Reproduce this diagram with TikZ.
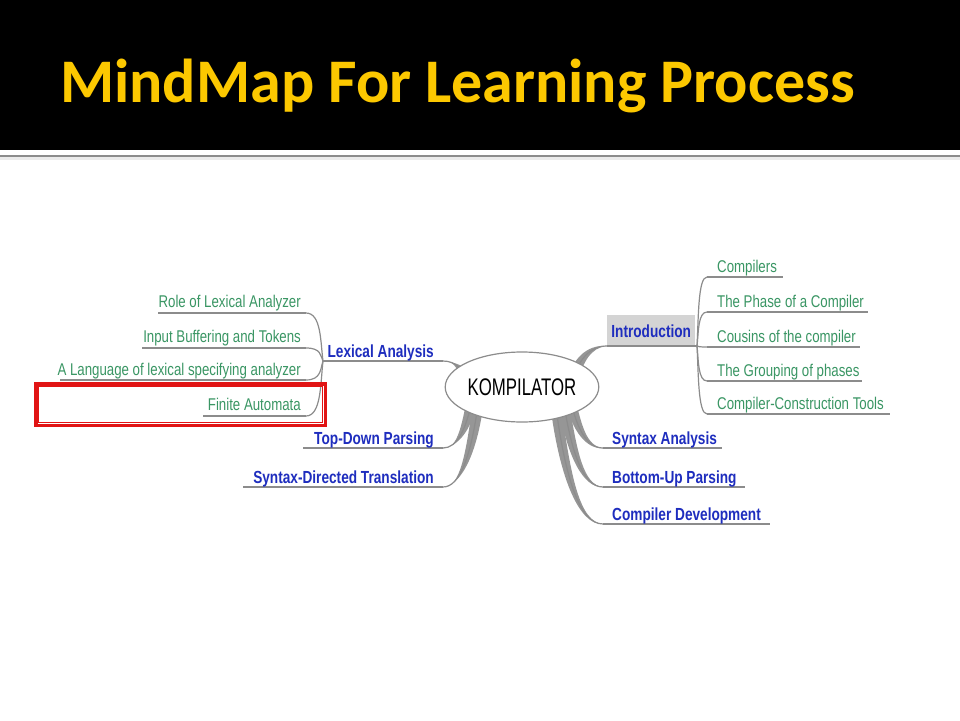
\documentclass[tikz,border=0pt]{standalone}
\usepackage{fontspec}
\usetikzlibrary{calc,shapes.geometric}
\newfontfamily\nf[FakeStretch=0.78]{Liberation Sans}
\newfontfamily\kf[FakeStretch=0.7]{Liberation Sans}
\newfontfamily\tf{Carlito}
\definecolor{ttl}{RGB}{252,200,0}
\definecolor{grn}{RGB}{58,150,100}
\definecolor{blu}{RGB}{30,45,190}
\definecolor{lng}{RGB}{140,140,140}
\definecolor{brg}{RGB}{150,150,150}
\definecolor{boxg}{RGB}{212,212,212}
\definecolor{redb}{RGB}{225,20,20}
\tikzset{
  kid/.style={inner sep=0pt, text=grn, font=\nf\fontsize{17}{19}\selectfont},
  mainb/.style={inner sep=0pt, text=blu, font=\nf\bfseries\fontsize{17.5}{19}\selectfont},
  ln/.style={draw=lng, line width=1.2pt},
}
\newcommand\twig[2]{\draw[ln] let \p1=(#1),\p2=(#2) in (\p1) .. controls ({\x1+0.9*(\x2-\x1)},\y1) and ({\x2-0.15*(\x2-\x1)},{\y2-0.4*(\y2-\y1)}) .. (\p2);}
\newcommand\branch[2]{\fill[brg] let \p1=(#1),\p2=(#2),\p3=($(#1)!5.5pt!90:(#2)$),\p4=($(#1)!5.5pt!-90:(#2)$) in
 (\p3) .. controls ({\x3+0.2*(\x2-\x1)},{\y3+0.6*(\y2-\y1)}) and ({\x2+0.5*(\x1-\x2)},{\y2+1.5pt}) .. (\p2)
 .. controls ({\x2+0.5*(\x1-\x2)},{\y2-1.5pt}) and ({\x4+0.2*(\x2-\x1)},{\y4+0.6*(\y2-\y1)}) .. (\p4) -- cycle;
 \draw[ln] let \p1=(#1),\p2=(#2) in (\p1) .. controls ({\x1+0.2*(\x2-\x1)},{\y1+0.6*(\y2-\y1)}) and ({\x2+0.5*(\x1-\x2)},\y2) .. (\p2);}
\begin{document}
\begin{tikzpicture}[x=1pt,y=-1pt]
\useasboundingbox (0,0) rectangle (960,720);
\fill[white] (0,0) rectangle (960,720);
\fill[black] (0,0) rectangle (960,150);
\fill[black!8] (0,157) rectangle (960,160);
\draw[line width=2pt, draw=black!45] (0,156) -- (960,156);
\node[anchor=base west, inner sep=0pt, text=ttl, font=\tf\bfseries\fontsize{62}{62}\selectfont] (title) at (60,102) {MindMap For Learning Process};

% coordinates: left side
\coordinate (hubL) at (323,361);
\coordinate (roleS) at (158,313); \coordinate (roleE) at (306,313);
\coordinate (inpS) at (142,348); \coordinate (inpE) at (306,348);
\coordinate (langS) at (60,380); \coordinate (langE) at (306,380);
\coordinate (finS) at (203,416); \coordinate (finE) at (306,416);
\coordinate (lexE) at (443,361);
\coordinate (tdS) at (303,448); \coordinate (tdE) at (443,448);
\coordinate (sdS) at (243,487); \coordinate (sdE) at (443,487);
% right side
\coordinate (introS) at (607,346); \coordinate (hubR) at (697,346);
\coordinate (c1S) at (707,277); \coordinate (c1E) at (783,277);
\coordinate (c2S) at (707,312); \coordinate (c2E) at (868,312);
\coordinate (c3S) at (707,347); \coordinate (c3E) at (860,347);
\coordinate (c4S) at (707,381); \coordinate (c4E) at (862,381);
\coordinate (c5S) at (707,414); \coordinate (c5E) at (890,414);
\coordinate (saS) at (603,448); \coordinate (saE) at (722,448);
\coordinate (buS) at (603,487); \coordinate (buE) at (745,487);
\coordinate (cdS) at (603,524); \coordinate (cdE) at (770,524);
% ellipse-side branch roots
\coordinate (rLex) at (468,382);
\coordinate (rTd) at (472,400);
\coordinate (rSd) at (478,405);
\coordinate (rIn) at (573,378);
\coordinate (rSa) at (570,398);
\coordinate (rBu) at (564,404);
\coordinate (rCd) at (556,408);

% thick branches
\branch{rLex}{lexE}
\branch{rTd}{tdE}
\branch{rSd}{sdE}
\branch{rIn}{introS}
\branch{rSa}{saS}
\branch{rBu}{buS}
\branch{rCd}{cdS}

% underlines
\draw[ln] (roleS) -- (roleE);
\draw[ln] (inpS) -- (inpE);
\draw[ln] (langS) -- (langE);
\draw[ln] (finS) -- (finE);
\draw[ln] (hubL) -- (lexE);
\draw[ln] (tdS) -- (tdE);
\draw[ln] (sdS) -- (sdE);
\draw[ln] (c1S) -- (c1E);
\draw[ln] (c2S) -- (c2E);
\draw[ln] (c3S) -- (c3E);
\draw[ln] (c4S) -- (c4E);
\draw[ln] (c5S) -- (c5E);
\draw[ln] (saS) -- (saE);
\draw[ln] (buS) -- (buE);
\draw[ln] (cdS) -- (cdE);

% twigs
\twig{roleE}{hubL}
\twig{inpE}{hubL}
\twig{langE}{hubL}
\twig{finE}{hubL}
\twig{c1S}{hubR}
\twig{c2S}{hubR}
\twig{c3S}{hubR}
\twig{c4S}{hubR}
\twig{c5S}{hubR}

% center
\node[ellipse, draw=lng, line width=1.2pt, fill=white, minimum width=132pt, minimum height=70pt, inner sep=0pt, font=\kf\fontsize{24}{26}\selectfont] (K) at (522,387) {KOMPILATOR};

% left texts
\node[kid, anchor=base east] (role) at (301,307) {Role of Lexical Analyzer};
\node[kid, anchor=base east] (inp) at (301,342) {Input Buffering and Tokens};
\node[kid, anchor=base east] (lang) at (301,375) {A Language of lexical specifying analyzer};
\node[kid, anchor=base east] (fin) at (301,410) {Finite Automata};
\node[mainb, anchor=base east] (lex) at (434,357) {Lexical Analysis};
\node[mainb, anchor=base east] (td) at (434,444) {Top-Down Parsing};
\node[mainb, anchor=base east] (sd) at (434,483) {Syntax-Directed Translation};

% right texts
\node[mainb, fill=boxg, minimum width=88pt, minimum height=32pt, anchor=south west] (intro) at (607,347) {Introduction};
\draw[ln] (introS) -- (hubR);
\node[kid, anchor=base west] (c1) at (717,272) {Compilers};
\node[kid, anchor=base west] (c2) at (717,307) {The Phase of a Compiler};
\node[kid, anchor=base west] (c3) at (717,342) {Cousins of the compiler};
\node[kid, anchor=base west] (c4) at (717,376) {The Grouping of phases};
\node[kid, anchor=base west] (c5) at (717,409) {Compiler-Construction Tools};
\node[mainb, anchor=base west] (sa) at (612,444) {Syntax Analysis};
\node[mainb, anchor=base west] (bu) at (612,483) {Bottom-Up Parsing};
\node[mainb, anchor=base west] (cd) at (612,520) {Compiler Development};

% red highlight
\draw[redb, line width=3.5pt] (35.75,383.75) rectangle (325.25,425.25);
\draw[redb, line width=1pt] (38.9,386.9) rectangle (322.1,422.1);
\end{tikzpicture}
\end{document}
